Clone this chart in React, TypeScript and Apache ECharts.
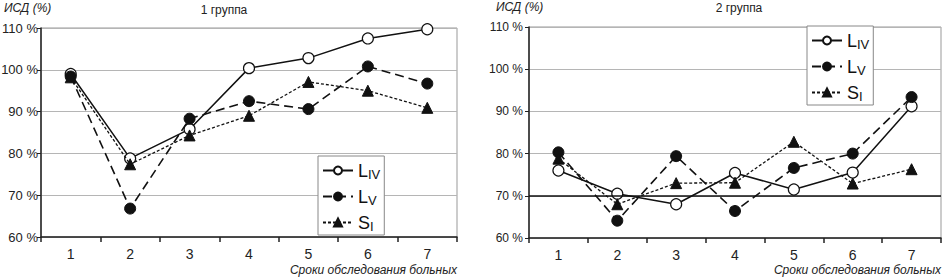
import React, { useEffect, useRef } from "react";
import * as echarts from "echarts";

const categories = ["1", "2", "3", "4", "5", "6", "7"];
const g1LIV = [99.0, 78.8, 85.8, 100.4, 102.8, 107.5, 109.7];
const g1LV = [98.4, 66.8, 88.3, 92.5, 90.6, 100.8, 96.7];
const g1SI = [98.2, 77.4, 84.3, 89.0, 97.1, 95.0, 90.9];
const g2LIV = [76.0, 70.5, 68.0, 75.4, 71.5, 75.5, 91.2];
const g2LV = [80.3, 64.1, 79.4, 66.4, 76.6, 80.0, 93.4];
const g2SI = [78.8, 68.0, 73.0, 73.1, 82.8, 72.9, 76.3];
const threshold = 70;
const titles = ["1 группа", "2 группа"];
const yName = "ИСД (%)";
const xName = "Сроки обследования больных";
const seriesNames = ["LIV", "LV", "SI"];

const FONT = "Liberation Sans, Arial, sans-serif";

export default function App() {
  const ref = useRef<HTMLDivElement>(null);
  useEffect(() => {
    if (!ref.current) return;
    const chart = echarts.init(ref.current, null, { renderer: "svg" });
    const grids = [
      { left: 41, right: 489, top: 28, bottom: 42 },
      { left: 529, right: 5, top: 27, bottom: 41 },
    ];
    const styleFor = (name: string) => {
      if (name === "LIV")
        return {
          symbol: "circle",
          symbolSize: 11,
          lineStyle: { color: "#111", width: 1.5, type: "solid" as any },
          itemStyle: { color: "#fff", borderColor: "#111", borderWidth: 1.2 },
        };
      if (name === "LV")
        return {
          symbol: "circle",
          symbolSize: 11,
          lineStyle: { color: "#111", width: 1.6, type: [9, 5] as any },
          itemStyle: { color: "#111", borderColor: "#111", borderWidth: 1 },
        };
      return {
        symbol: "triangle",
        symbolSize: 11,
        lineStyle: { color: "#111", width: 1.3, type: [3, 2] as any },
        itemStyle: { color: "#111", borderColor: "#111", borderWidth: 1 },
      };
    };
    const groups = [
      [g1LIV, g1LV, g1SI],
      [g2LIV, g2LV, g2SI],
    ];
    const series: any[] = [];
    groups.forEach((g, gi) => {
      g.forEach((data, si) => {
        const name = seriesNames[si];
        const s: any = {
          type: "line",
          name,
          xAxisIndex: gi,
          yAxisIndex: gi,
          data,
          showSymbol: true,
          ...styleFor(name),
          z: 3 + si,
        };
        if (gi === 1 && si === 0) {
          s.markLine = {
            silent: true,
            symbol: "none",
            label: { show: false },
            lineStyle: { color: "#111", width: 1.5, type: "solid" },
            data: [{ yAxis: threshold }],
          };
        }
        series.push(s);
      });
    });
    const legendFmt = (name: string) => {
      if (name === "LIV") return "{m|L}{s|IV}";
      if (name === "LV") return "{m|L}{s|V}";
      return "{m|S}{s|I}";
    };
    const legendCommon = {
      orient: "vertical",
      data: seriesNames,
      itemWidth: 30,
      itemHeight: 10,
      itemGap: 5,
      padding: [4, 4, 2, 4],
      backgroundColor: "#fff",
      borderColor: "#888",
      borderWidth: 1,
      borderRadius: 0,
      selectedMode: false,
      formatter: legendFmt,
      textStyle: {
        color: "#111",
        fontFamily: FONT,
        rich: {
          m: { fontSize: 18, fontFamily: FONT, color: "#111", lineHeight: 18 },
          s: { fontSize: 13, fontFamily: FONT, color: "#111", padding: [8, 0, 0, 0], lineHeight: 18 },
        },
      },
    };
    const option: any = {
      animation: false,
      backgroundColor: "#fff",
      grid: grids.map((g) => ({
        ...g,
        show: true,
        borderColor: "#999",
        borderWidth: 1,
        backgroundColor: "transparent",
        outerBoundsMode: "none",
        containLabel: false,
      })),
      legend: [
        { ...legendCommon, left: 318, top: 156 },
        { ...legendCommon, left: 807, top: 26 },
      ],
      xAxis: [0, 1].map((i) => ({
        type: "category",
        gridIndex: i,
        data: categories,
        boundaryGap: true,
        axisLine: { lineStyle: { color: "#222", width: 1.5 } },
        axisTick: { show: true, length: 5, inside: false, lineStyle: { color: "#222", width: 1.5 } },
        axisLabel: { color: "#222", fontSize: 14, fontFamily: FONT, margin: 10 },
        splitLine: { show: false },
      })),
      yAxis: [0, 1].map((i) => ({
        type: "value",
        gridIndex: i,
        min: 60,
        max: 110,
        interval: 10,
        axisLine: { show: true, lineStyle: { color: "#222", width: 1.5 } },
        axisTick: { show: true, length: 4, lineStyle: { color: "#222" } },
        axisLabel: {
          color: "#222",
          fontSize: i === 0 ? 13 : 12,
          fontFamily: FONT,
          margin: i === 0 ? 3 : 6,
          formatter: "{value} %",
        },
        splitLine: { show: true, lineStyle: { color: "#b5b5b5", width: 1 } },
      })),
      series,
      graphic: [
        { type: "text", left: 4, top: 2, style: { text: yName, fontSize: 12, fontStyle: "italic", fontFamily: FONT, fill: "#222" } },
        { type: "text", left: 496, top: 1, style: { text: yName, fontSize: 12, fontStyle: "italic", fontFamily: FONT, fill: "#222" } },
        { type: "text", x: 224, y: 4, style: { text: titles[0], fontSize: 12, fontFamily: FONT, fill: "#222", textAlign: "center" } },
        { type: "text", x: 739, y: 2, style: { text: titles[1], fontSize: 12, fontFamily: FONT, fill: "#222", textAlign: "center" } },
        { type: "text", x: 457, y: 264, style: { text: xName, fontSize: 12, fontStyle: "italic", fontFamily: FONT, fill: "#222", textAlign: "right" } },
        { type: "text", x: 941, y: 264, style: { text: xName, fontSize: 12, fontStyle: "italic", fontFamily: FONT, fill: "#222", textAlign: "right" } },
      ],
    };
    chart.setOption(option);
    return () => chart.dispose();
  }, []);
  return (
    <div
      ref={ref}
      style={{ position: "fixed", left: 0, top: 0, width: 946, height: 279, background: "#fff" }}
    />
  );
}
